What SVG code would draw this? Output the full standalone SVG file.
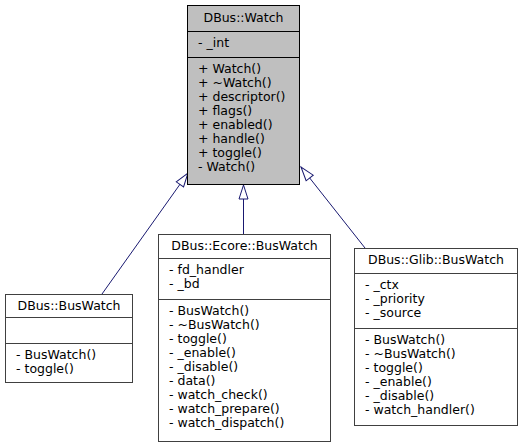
<svg xmlns="http://www.w3.org/2000/svg" width="523" height="448" viewBox="0 0 523 448">
<style>
  text { font-family: "DejaVu Sans", "Liberation Sans", sans-serif; font-size: 12.5px; fill: #000; }
  .t { text-anchor: middle; }
  .box { fill: #ffffff; stroke: #404040; stroke-width: 1; }
  .cur { fill: #bfbfbf; stroke: #000000; stroke-width: 1; }
  .sep { stroke: #404040; stroke-width: 1; }
  .sepc { stroke: #000000; stroke-width: 1; }
  .edge { fill: none; stroke: #191970; stroke-width: 1; }
</style>
<defs>
  <marker id="inh" markerUnits="userSpaceOnUse" markerWidth="16" markerHeight="12" refX="14" refY="5" orient="auto" overflow="visible">
    <path d="M0,0.5 L14,5 L0,9.5 Z" fill="#ffffff" stroke="#191970" stroke-width="1"/>
  </marker>
</defs>
<rect width="523" height="448" fill="#ffffff"/>

<g id="connectors">
  <path class="edge" d="M102,294 L188,173" marker-end="url(#inh)"/>
  <path class="edge" d="M243.5,234 L243.5,185" marker-end="url(#inh)"/>
  <path class="edge" d="M365,248 L301,167" marker-end="url(#inh)"/>
</g>

<g id="node-watch">
  <rect class="cur" x="187.5" y="5.5" width="112" height="179"/>
  <line class="sepc" x1="187.5" y1="31.5" x2="299.5" y2="31.5"/>
  <line class="sepc" x1="187.5" y1="57.5" x2="299.5" y2="57.5"/>
  <text class="t" x="243.5" y="22">DBus::Watch</text>
  <text x="198" y="47">- _int</text>
  <text x="198" y="73">+ Watch()</text>
  <text x="198" y="87">+ ~Watch()</text>
  <text x="198" y="101">+ descriptor()</text>
  <text x="198" y="115">+ flags()</text>
  <text x="198" y="129">+ enabled()</text>
  <text x="198" y="143">+ handle()</text>
  <text x="198" y="157">+ toggle()</text>
  <text x="198" y="171">- Watch()</text>
</g>

<g id="node-buswatch">
  <rect class="box" x="5.5" y="294.5" width="127" height="88"/>
  <line class="sep" x1="5.5" y1="317.5" x2="132.5" y2="317.5"/>
  <line class="sep" x1="5.5" y1="343.5" x2="132.5" y2="343.5"/>
  <text class="t" x="69" y="310">DBus::BusWatch</text>
  <text x="16" y="359">- BusWatch()</text>
  <text x="16" y="373">- toggle()</text>
</g>

<g id="node-ecore-buswatch">
  <rect class="box" x="158.5" y="234.5" width="172" height="207"/>
  <line class="sep" x1="158.5" y1="258.5" x2="330.5" y2="258.5"/>
  <line class="sep" x1="158.5" y1="299.5" x2="330.5" y2="299.5"/>
  <text class="t" x="244.5" y="250">DBus::Ecore::BusWatch</text>
  <text x="169" y="274">- fd_handler</text>
  <text x="169" y="288">- _bd</text>
  <text x="169" y="315">- BusWatch()</text>
  <text x="169" y="329">- ~BusWatch()</text>
  <text x="169" y="343">- toggle()</text>
  <text x="169" y="357">- _enable()</text>
  <text x="169" y="371">- _disable()</text>
  <text x="169" y="385">- data()</text>
  <text x="169" y="399">- watch_check()</text>
  <text x="169" y="413">- watch_prepare()</text>
  <text x="169" y="427">- watch_dispatch()</text>
</g>

<g id="node-glib-buswatch">
  <rect class="box" x="354.5" y="248.5" width="163" height="177"/>
  <line class="sep" x1="354.5" y1="273.5" x2="517.5" y2="273.5"/>
  <line class="sep" x1="354.5" y1="328.5" x2="517.5" y2="328.5"/>
  <text class="t" x="436" y="264">DBus::Glib::BusWatch</text>
  <text x="365" y="289">- _ctx</text>
  <text x="365" y="303">- _priority</text>
  <text x="365" y="317">- _source</text>
  <text x="365" y="344">- BusWatch()</text>
  <text x="365" y="358">- ~BusWatch()</text>
  <text x="365" y="372">- toggle()</text>
  <text x="365" y="386">- _enable()</text>
  <text x="365" y="400">- _disable()</text>
  <text x="365" y="414">- watch_handler()</text>
</g>
</svg>
